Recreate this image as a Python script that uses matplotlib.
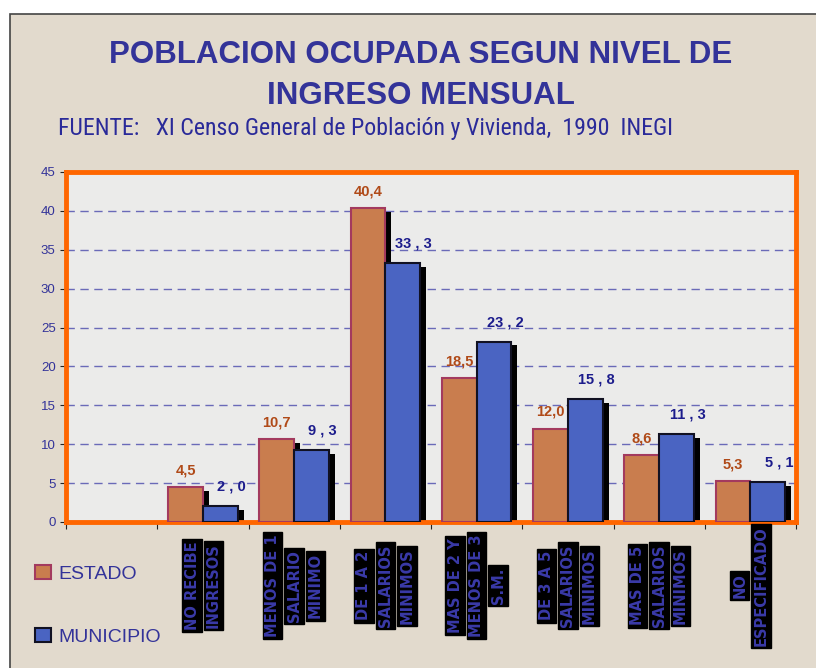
import matplotlib
matplotlib.use("Agg")
import matplotlib.pyplot as plt
from matplotlib.patches import Patch, Rectangle
import numpy as np

# Datos (porcentajes)
categorias = [
    ["NO RECIBE", "INGRESOS"],
    ["MENOS DE 1", "SALARIO", "MINIMO"],
    ["DE 1 A 2", "SALARIOS", "MINIMOS"],
    ["MAS DE 2 Y", "MENOS DE 3", "S.M."],
    ["DE 3 A 5", "SALARIOS", "MINIMOS"],
    ["MAS DE 5", "SALARIOS", "MINIMOS"],
    ["NO", "ESPECIFICADO"],
]
estado = [4.5, 10.7, 40.4, 18.5, 12.0, 8.6, 5.3]
municipio = [2.0, 9.3, 33.3, 23.2, 15.8, 11.3, 5.1]
y_ticks = list(range(0, 46, 5))

AZUL_TXT = "#333399"
BEIGE = "#e2dacd"

fig = plt.figure(figsize=(8.16, 6.68), dpi=100)
fig.patch.set_facecolor("white")
# marco exterior beige
fondo = Rectangle((10 / 816, -0.05), 1.1, (654 / 668) + 0.05,
                  transform=fig.transFigure, facecolor=BEIGE,
                  edgecolor="#444444", linewidth=1.2, zorder=-5)
fig.add_artist(fondo)

ax = fig.add_axes([66 / 816, 146 / 668, 730 / 816, 350 / 668])
ax.set_facecolor("#ebebea")

n = len(categorias)
x = np.arange(1, n + 1)   # la primera ranura queda vacia
w = 0.38
dx, dy = 0.066, 0.5       # desplazamiento de la sombra

# sombras
ax.bar(x - w / 2 + dx, np.array(estado) - dy, w, color="black", zorder=2)
ax.bar(x + w / 2 + dx, np.array(municipio) - dy, w, color="black", zorder=2)
# barras
ax.bar(x - w / 2, estado, w, color="#c97d4e", edgecolor="#a33a5e",
       linewidth=1.5, zorder=3)
ax.bar(x + w / 2, municipio, w, color="#4a64c2", edgecolor="#111122",
       linewidth=1.5, zorder=4)

for xi, v in zip(x, estado):
    ax.annotate(f"{v:.1f}".replace(".", ","), (xi - w / 2, v), xytext=(0, 7),
                textcoords="offset points", ha="center", va="bottom",
                color="#b04a18", fontsize=10.5, fontweight="bold",
                family="Liberation Sans", zorder=5)
for xi, v in zip(x, municipio):
    ax.annotate(f"{v:.1f}".replace(".", " , "), (xi + w / 2, v), xytext=(8, 9),
                textcoords="offset points", ha="center", va="bottom",
                color="#1c1c8c", fontsize=10.5, fontweight="bold",
                family="Liberation Sans", zorder=5)

ax.set_xlim(-0.5, n + 0.5)
ax.set_ylim(0, 45)
ax.set_yticks(y_ticks)
ax.set_xticks(np.arange(-0.5, n + 1, 1))
ax.set_xticklabels([])
ax.yaxis.grid(True, linestyle=(0, (6, 4)), color="#6a6ab8", linewidth=1)
ax.set_axisbelow(True)
for s in ax.spines.values():
    s.set_color("#ff6600")
    s.set_linewidth(3.5)
ax.tick_params(axis="y", colors="#222222", labelcolor=AZUL_TXT, labelsize=9.5,
               length=4, direction="out")
ax.tick_params(axis="x", colors="#222222", length=5, direction="out")
for lbl in ax.get_yticklabels():
    lbl.set_family("Liberation Sans")

# etiquetas de categoria, verticales en recuadros negros
for xi, lineas in zip(x, categorias):
    k = len(lineas)
    for j, linea in enumerate(lineas):
        off = (j - (k - 1) / 2) * 0.235
        ax.text(xi + off, -8.2, linea, rotation=90, ha="center", va="center",
                color="#3a3aa8", fontsize=10.5, fontweight="bold",
                family="DejaVu Sans", clip_on=False,
                bbox=dict(boxstyle="square,pad=0.15", facecolor="black",
                          edgecolor="black"))

# titulo
fig.text(0.515, 0.9177, "POBLACION OCUPADA SEGUN NIVEL DE", ha="center",
         va="center", color=AZUL_TXT, fontsize=22.5, fontweight="bold",
         family="Liberation Sans")
fig.text(0.516, 0.856, "INGRESO MENSUAL", ha="center", va="center",
         color=AZUL_TXT, fontsize=22.5, fontweight="bold",
         family="Liberation Sans")
fig.text(0.071, 0.808,
         "FUENTE:   XI Censo General de Población y Vivienda,  1990  INEGI",
         ha="left", va="center", color="#2a2a99", fontsize=17.2,
         family="Roboto Condensed")

handles = [Patch(facecolor="#c97d4e", edgecolor="#a33a5e", linewidth=1.5),
           Patch(facecolor="#4a64c2", edgecolor="#111122", linewidth=1.5)]
leg = fig.legend(handles, ["ESTADO", "MUNICIPIO"], loc="upper left",
                 bbox_to_anchor=(0.022, 0.181), frameon=False,
                 labelspacing=2.3, handlelength=0.8, handleheight=0.8,
                 handletextpad=0.4,
                 prop={"family": "Liberation Sans", "size": 14})
for t in leg.get_texts():
    t.set_color(AZUL_TXT)

fig.savefig("out.png", dpi=100, facecolor=fig.get_facecolor())
